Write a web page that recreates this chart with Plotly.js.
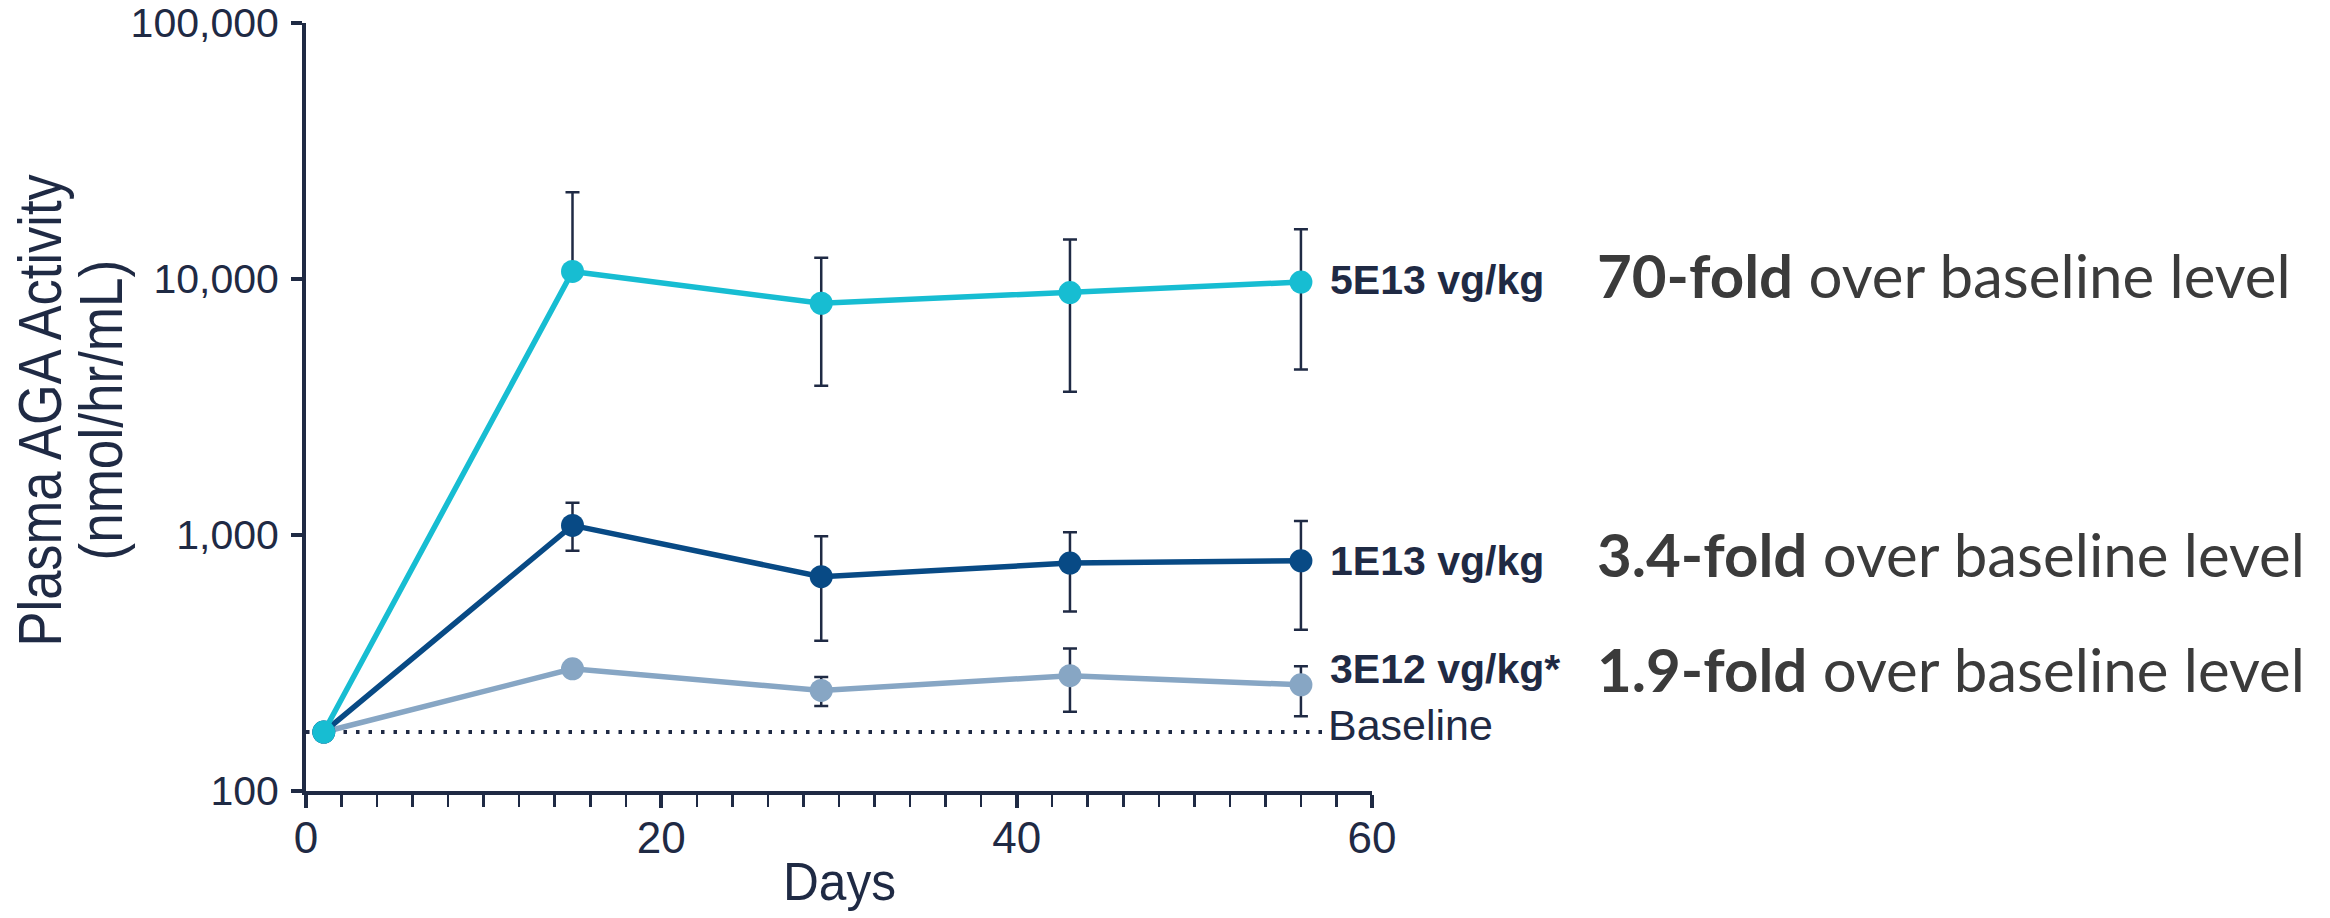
<!DOCTYPE html>
<html><head><meta charset="utf-8">
<script src="https://cdn.plot.ly/plotly-3.0.1.min.js"></script>
<style>html,body{margin:0;padding:0;background:#fff;} #chart{width:2330px;height:918px;}</style>
</head><body><div id="chart"></div>
<script>
// ---- data ----
const days = [1, 15, 29, 43, 56];
const seriesNames = ["3E12 vg/kg*", "1E13 vg/kg", "5E13 vg/kg"];
const dose3E12 = [170, 300, 247, 282, 260];
const dose3E12ErrUp = [NaN, NaN, 32, 78, 47];
const dose3E12ErrDown = [NaN, NaN, 32, 78, 64];
const dose1E13 = [170, 1090, 687, 777, 793];
const dose1E13ErrUp = [NaN, 247, 301, 249, 342];
const dose1E13ErrDown = [NaN, 223, 301, 274, 367];
const dose5E13 = [170, 10700, 8040, 8850, 9730];
const dose5E13ErrUp = [NaN, 11100, 4060, 5400, 5930];
const dose5E13ErrDown = [NaN, 0, 4210, 5220, 5300];
const baselineValue = 170;
const baselineDays = [0, 57.4];
const foldBold = ["1.9-fold", "3.4-fold", "70-fold"];
const foldRest = " over baseline level";
const yTickVals = [100, 1000, 10000, 100000];
const yTickText = ["100", "1,000", "10,000", "100,000"];

// ---- styling ----
const ink = "#1f2a44";
const colors = ["#87a6c4", "#084a85", "#17bdd2"];
const values = [dose3E12, dose1E13, dose5E13];
const errUp = [dose3E12ErrUp, dose1E13ErrUp, dose5E13ErrUp];
const errDown = [dose3E12ErrDown, dose1E13ErrDown, dose5E13ErrDown];
const labelShift = [16, 0, 2];
const foldY = [2.477, 2.926, 4.016];

const L = 306, R = 958, T = 23, B = 127, W = 2330, H = 918;
const plotW = W - L - R, plotH = H - T - B;
const px2paperX = p => (p - L) / plotW;
const px2paperY = p => (H - B - p) / plotH;

const traces = [{
  x: baselineDays, y: [baselineValue, baselineValue], type: "scatter", mode: "lines",
  line: {color: ink, width: 4, dash: "3.5px,9px"}, hoverinfo: "skip", showlegend: false
}];
for (let i = 0; i < 3; i++) {
  traces.push({
    x: days, y: values[i], name: seriesNames[i], type: "scatter", mode: "lines+markers",
    line: {color: colors[i], width: 5.5},
    marker: {color: colors[i], size: 23},
    error_y: {type: "data", symmetric: false, array: errUp[i], arrayminus: errDown[i],
              color: ink, thickness: 2.5, width: 7},
    showlegend: false
  });
}

const fontMain = "Liberation Sans, Arial, sans-serif";
const fontFold = "Lato, Open Sans, sans-serif";

const annotations = [];
for (let i = 0; i < 3; i++) {
  annotations.push({
    xref: "x", yref: "y", x: days[days.length - 1], y: Math.log10(values[i][values[i].length - 1]),
    xshift: 27, yshift: labelShift[i], xanchor: "left", yanchor: "middle", showarrow: false,
    text: "<b>" + seriesNames[i] + "</b>", font: {family: fontMain, size: 41, color: ink}
  });
  annotations.push({
    xref: "paper", yref: "y", x: px2paperX(1595), y: foldY[i], xanchor: "left", yanchor: "middle",
    showarrow: false, text: "<b>" + foldBold[i] + "</b>" + foldRest,
    font: {family: fontFold, size: 60, color: "#3b3b3b"}
  });
}
annotations.push({
  xref: "x", yref: "y", x: baselineDays[1], y: Math.log10(baselineValue), xanchor: "left", yanchor: "middle",
  yshift: 7, showarrow: false, text: "Baseline", font: {family: fontMain, size: 43, color: ink}
});
const condensed = {};
condensed[annotations.length] = 0.86;
annotations.push({
  xref: "paper", yref: "paper", x: px2paperX(40), y: px2paperY(410), textangle: -90,
  xanchor: "center", yanchor: "middle", showarrow: false, text: "Plasma AGA Activity",
  font: {family: fontMain, size: 61, color: ink}
});
condensed[annotations.length] = 0.87;
annotations.push({
  xref: "paper", yref: "paper", x: px2paperX(101), y: px2paperY(410), textangle: -90,
  xanchor: "center", yanchor: "middle", showarrow: false, text: "(nmol/hr/mL)",
  font: {family: fontMain, size: 61, color: ink}
});
condensed[annotations.length] = 0.92;
annotations.push({
  xref: "paper", yref: "paper", x: 0.5, y: px2paperY(881), xanchor: "center", yanchor: "middle",
  showarrow: false, text: "Days", font: {family: fontMain, size: 54, color: ink}
});

const layout = {
  width: W, height: H, margin: {l: L, r: R, t: T, b: B, pad: 0},
  paper_bgcolor: "#fff", plot_bgcolor: "#fff", showlegend: false,
  font: {family: fontMain, color: ink},
  xaxis: {
    range: [0, 60], tickvals: [0, 20, 40, 60], ticks: "outside", ticklen: 13, tickwidth: 4, tickcolor: ink,
    showline: true, linewidth: 4, linecolor: ink, showgrid: false, zeroline: false,
    tickfont: {family: fontMain, size: 44, color: ink}, ticklabelstandoff: -8,
    minor: {dtick: 2, ticks: "outside", ticklen: 12, tickwidth: 2.5, tickcolor: ink, showgrid: false}
  },
  yaxis: {
    type: "log", range: [2, 5], tickvals: yTickVals, ticktext: yTickText,
    ticks: "outside", ticklen: 11, tickwidth: 4, tickcolor: ink, ticklabelstandoff: 4,
    showline: true, linewidth: 4, linecolor: ink, showgrid: false, zeroline: false,
    tickfont: {family: fontMain, size: 41, color: ink}
  },
  annotations: annotations
};

Plotly.newPlot("chart", traces, layout, {displayModeBar: false, staticPlot: true}).then(gd => {
  // the reference's axis titles use a condensed face; narrow the text horizontally
  Object.keys(condensed).forEach(k => {
    const t = gd.querySelector('g.annotation[data-index="' + k + '"] text.annotation-text');
    if (t) {
      t.style.transformBox = "fill-box";
      t.style.transformOrigin = "center";
      t.style.transform = "scaleX(" + condensed[k] + ")";
    }
  });
});
</script></body></html>
